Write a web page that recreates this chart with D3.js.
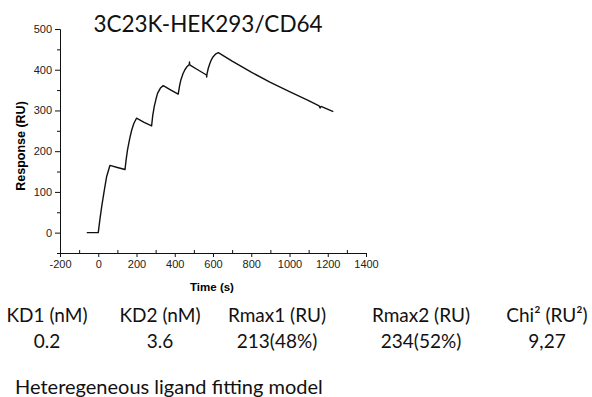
<!DOCTYPE html>
<html lang="en">
<head>
  <meta charset="UTF-8">
  <title>3C23K-HEK293/CD64</title>
  <style>
    body { margin: 0; background: #fff; }
    .tick text { font-family: "Liberation Sans", Arial, sans-serif; font-size: 11px; fill: #222; }
    .calib { font-family: Lato, "Open Sans", sans-serif; fill: #111; }
  </style>
</head>
<body>
  <div id="svg"></div>
  <script src="https://d3js.org/d3.v7.min.js"></script>
  <script>
// sensorgram (time in s, response in RU)
const time = [-60, 0, 8, 18, 32, 44, 61, 100, 140,
  146, 153, 165, 175, 186, 200, 240, 279,
  285, 293, 302, 310, 325, 340, 380, 418,
  425, 432, 443, 453, 465, 476, 477, 478, 520, 566, 567, 568,
  575, 584, 592, 601, 615, 628,
  700, 800, 900, 1000, 1100, 1155, 1160, 1165, 1229]
const response = [0, 0, 30, 64, 105, 138, 165, 160, 155,
  180, 203, 232, 252, 268, 281, 271, 262,
  288, 310, 328, 342, 355, 361, 350, 340,
  360, 375, 390, 400, 408, 413, 419, 412, 400, 387, 382, 388,
  403, 416, 425, 432, 439, 442,
  421, 394, 369, 346, 324, 311, 306, 310, 297]

const xTicks = [-200, 0, 200, 400, 600, 800, 1000, 1200, 1400]
const yTicks = [0, 100, 200, 300, 400, 500]

const headers = ['KD1 (nM)', 'KD2 (nM)', 'Rmax1 (RU)', 'Rmax2 (RU)', 'Chi² (RU²)']
const values = ['0.2', '3.6', '213(48%)', '234(52%)', '9,27']

const title = '3C23K-HEK293/CD64'
const footnote = 'Heteregeneous ligand fitting model'

const width = 592, height = 397
const colX = [47, 160, 277, 421, 547]

const svg = d3.select('#svg')
  .append('svg')
    .attr('width', width)
    .attr('height', height)

const x = d3.scaleLinear().domain([-200, 1400]).range([60, 366])
const y = d3.scaleLinear().domain([-50, 500]).range([253, 29])

// minor ticks first so the labelled axis sits on top
svg.append('g')
  .attr('transform', 'translate(0,253)')
  .call(d3.axisBottom(x).tickValues(d3.range(-100, 1400, 200)).tickSize(-3).tickSizeOuter(0).tickFormat(''))
svg.append('g')
  .attr('transform', 'translate(60,0)')
  .call(d3.axisLeft(y).tickValues(d3.range(-50, 501, 100)).tickSize(3).tickSizeOuter(0).tickFormat(''))

// plain hyphen minus, no thousands separator
const plain = d => String(d)

svg.append('g')
  .attr('transform', 'translate(0,253)')
  .call(d3.axisBottom(x).tickValues(xTicks).tickSize(4).tickSizeOuter(0).tickPadding(3).tickFormat(plain))
svg.append('g')
  .attr('transform', 'translate(60,0)')
  .call(d3.axisLeft(y).tickValues(yTicks).tickSize(5).tickSizeOuter(0).tickPadding(3).tickFormat(plain))

svg.selectAll('.domain, .tick line').attr('stroke', '#111')

svg.append('text')
  .attr('x', 212)
  .attr('y', 291)
  .attr('text-anchor', 'middle')
  .style('font-family', '"Liberation Sans", Arial, sans-serif')
  .style('font-weight', 'bold')
  .style('font-size', '11.5px')
  .text('Time (s)')

svg.append('text')
  .attr('transform', 'translate(25,146) rotate(-90)')
  .attr('text-anchor', 'middle')
  .style('font-family', '"Liberation Sans", Arial, sans-serif')
  .style('font-weight', 'bold')
  .style('font-size', '12.5px')
  .text('Response (RU)')

const pts = time.map((t, i) => [t, response[i]])
svg.append('path')
  .datum(pts)
  .attr('fill', 'none')
  .attr('stroke', '#111')
  .attr('stroke-width', 1.4)
  .attr('stroke-linejoin', 'round')
  .attr('d', d3.line().x(d => x(d[0])).y(d => y(d[1])))

svg.append('text')
  .attr('class', 'calib')
  .attr('x', 208)
  .attr('y', 32)
  .attr('text-anchor', 'middle')
  .style('font-size', '22.5px')
  .text(title)

svg.append('g').selectAll('text')
  .data(headers)
  .enter()
  .append('text')
    .attr('class', 'calib')
    .attr('x', (d, i) => colX[i])
    .attr('y', 322)
    .attr('text-anchor', 'middle')
    .style('font-size', '19px')
    .text(d => d)

svg.append('g').selectAll('text')
  .data(values)
  .enter()
  .append('text')
    .attr('class', 'calib')
    .attr('x', (d, i) => colX[i])
    .attr('y', 348)
    .attr('text-anchor', 'middle')
    .style('font-size', '19px')
    .text(d => d)

svg.append('text')
  .attr('class', 'calib')
  .attr('x', 15)
  .attr('y', 394)
  .style('font-size', '20px')
  .text(footnote)
  </script>
</body>
</html>
